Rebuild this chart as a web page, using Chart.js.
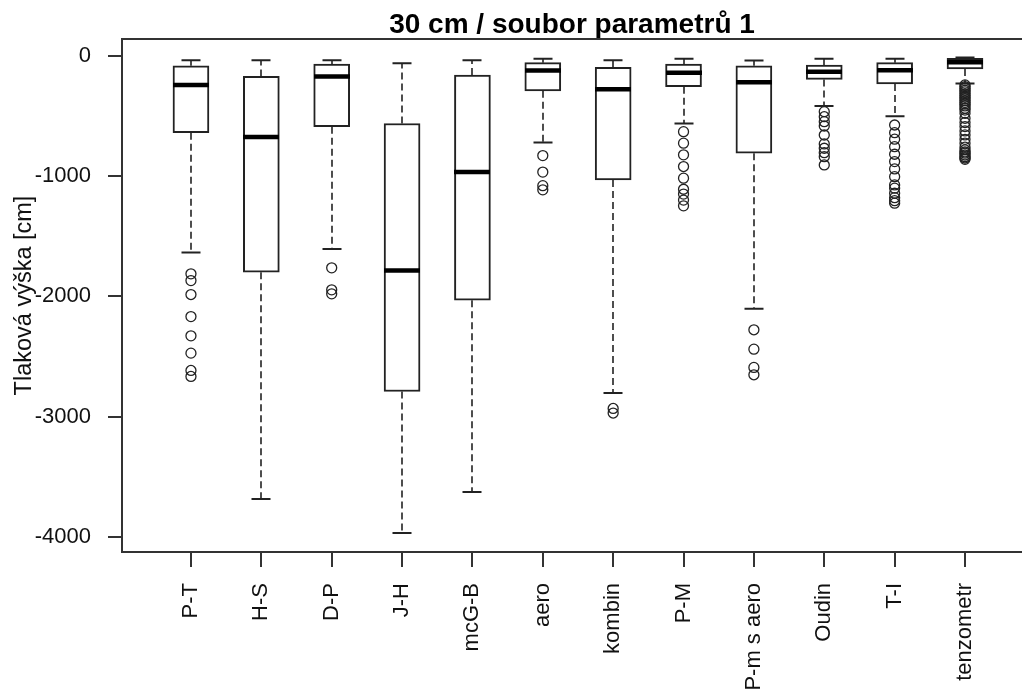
<!DOCTYPE html>
<html>
<head>
<meta charset="utf-8">
<title>30 cm / soubor parametrů 1</title>
<script src="https://cdn.jsdelivr.net/npm/chart.js@4.4.1/dist/chart.umd.min.js"></script>
<style>
  html, body { margin: 0; padding: 0; background: #ffffff; }
  canvas { display: block; }
</style>
</head>
<body>
<canvas id="chart" width="1022" height="695"></canvas>
<script>
// Pressure head at 30 cm depth, one box per method (parameter set 1)
const categories = ['P-T', 'H-S', 'D-P', 'J-H', 'mcG-B', 'aero', 'kombin', 'P-M', 'P-m s aero', 'Oudin', 'T-I', 'tenzometr'];

const upperWhisker = [-38, -38, -38, -62, -37, -26, -37, -26, -40, -26, -25, -15];
const q3           = [-84, -172, -70, -563, -160, -58, -96, -70, -84, -77, -58, -22];
const median       = [-243, -675, -172, -1786, -967, -122, -279, -142, -220, -134, -121, -55];
const q1           = [-640, -1799, -590, -2791, -2032, -292, -1032, -258, -811, -197, -235, -110];
const lowerWhisker = [-1636, -3685, -1606, -3967, -3626, -722, -2804, -563, -2104, -418, -503, -230];

const outliers = [
  [-1813, -1869, -1985, -2168, -2328, -2472, -2616, -2666],
  [],
  [-1763, -1946, -1979],
  [],
  [],
  [-830, -967, -1080, -1115],
  [-2932, -2970],
  [-631, -727, -824, -921, -1018, -1110, -1150, -1200, -1248],
  [-2278, -2439, -2591, -2652],
  [-465, -507, -548, -584, -659, -733, -769, -806, -839, -908],
  [-576, -640, -694, -756, -819, -880, -941, -1005, -1074, -1101, -1143, -1180, -1205, -1226],
  [-243, -258, -272, -287, -301, -316, -330, -345, -359, -374, -388, -403, -417, -437, -452, -478,
   -520, -555, -589, -625, -658, -695, -727, -760, -783, -800, -810, -825, -839, -850, -861]
];

const yTicks = [0, -1000, -2000, -3000, -4000];

const INK = '#222222';
const AXIS = '#333333';
const FONT = "'Liberation Sans', Arial, sans-serif";

// Box rectangles: floating bars from Q1 to Q3 at positions 1..n
const boxData = categories.map((c, i) => ({ x: i + 1, y: [q1[i], q3[i]] }));
// Outlying values as hollow circles
const outlierData = [];
outliers.forEach((list, i) => list.forEach(v => outlierData.push({ x: i + 1, y: v })));

// Whiskers, staples and medians drawn right after the boxes
const whiskerPlugin = {
  id: 'whiskers',
  afterDatasetDraw(chart, args) {
    if (args.index !== 0) return;
    const { ctx, scales: { x, y } } = chart;
    const boxHalf = 18, capHalf = 9.5;
    ctx.save();
    ctx.strokeStyle = INK;
    ctx.lineCap = 'butt';
    categories.forEach((c, i) => {
      const px = Math.round(x.getPixelForValue(i + 1));
      const yUp = y.getPixelForValue(upperWhisker[i]);
      const yQ3 = y.getPixelForValue(q3[i]);
      const yQ1 = y.getPixelForValue(q1[i]);
      const yLo = y.getPixelForValue(lowerWhisker[i]);
      const yMed = y.getPixelForValue(median[i]);

      // dashed whisker lines
      ctx.lineWidth = 1.6;
      ctx.setLineDash([7, 4]);
      ctx.beginPath();
      ctx.moveTo(px, yQ3);
      ctx.lineTo(px, yUp);
      ctx.moveTo(px, yQ1);
      ctx.lineTo(px, yLo);
      ctx.stroke();

      // staples
      ctx.setLineDash([]);
      ctx.lineWidth = 2;
      ctx.beginPath();
      ctx.moveTo(px - capHalf, yUp);
      ctx.lineTo(px + capHalf, yUp);
      ctx.moveTo(px - capHalf, yLo);
      ctx.lineTo(px + capHalf, yLo);
      ctx.stroke();

      // median
      ctx.lineWidth = 4.5;
      ctx.strokeStyle = '#000000';
      ctx.beginPath();
      ctx.moveTo(px - boxHalf, yMed);
      ctx.lineTo(px + boxHalf, yMed);
      ctx.stroke();
      ctx.strokeStyle = INK;
    });
    ctx.restore();
  }
};

// Top edge of the plot frame
const framePlugin = {
  id: 'frameTop',
  afterDraw(chart) {
    const { ctx, chartArea } = chart;
    ctx.save();
    ctx.strokeStyle = AXIS;
    ctx.lineWidth = 2;
    ctx.beginPath();
    ctx.moveTo(chartArea.left - 1, chartArea.top);
    ctx.lineTo(chartArea.right, chartArea.top);
    ctx.stroke();
    ctx.restore();
  }
};

new Chart(document.getElementById('chart'), {
  type: 'bar',
  data: {
    datasets: [
      {
        type: 'bar',
        data: boxData,
        backgroundColor: '#ffffff',
        borderColor: INK,
        borderWidth: 2,
        borderSkipped: false,
        barThickness: 36,
        order: 2
      },
      {
        type: 'line',
        data: outlierData,
        showLine: false,
        pointStyle: 'circle',
        pointRadius: 5,
        pointBorderWidth: 1.3,
        pointBorderColor: INK,
        pointBackgroundColor: 'rgba(0,0,0,0)',
        order: 1
      }
    ]
  },
  options: {
    responsive: false,
    devicePixelRatio: 1,
    animation: false,
    layout: { padding: 0, autoPadding: false },
    plugins: {
      legend: { display: false },
      tooltip: { enabled: false },
      title: {
        display: true,
        text: '30 cm / soubor parametrů 1',
        fullSize: false,
        color: '#000000',
        font: { family: FONT, size: 28, weight: 'bold', lineHeight: 1 },
        padding: { top: 11, bottom: 0 }
      }
    },
    scales: {
      x: {
        type: 'linear',
        offset: false,
        min: 0.02,
        max: 12.81,
        afterBuildTicks(scale) {
          scale.ticks = categories.map((c, i) => ({ value: i + 1 }));
        },
        afterFit(scale) {
          scale.height = 143;
          scale.paddingLeft = 0;
          scale.paddingRight = 0;
        },
        border: { display: true, color: AXIS, width: 2 },
        grid: { offset: false, drawOnChartArea: false, drawTicks: true, tickLength: 15, color: AXIS, lineWidth: 2 },
        ticks: {
          autoSkip: false,
          minRotation: 90,
          maxRotation: 90,
          padding: 16,
          color: '#111111',
          font: { family: FONT, size: 22 },
          callback: (value, index) => categories[index]
        }
      },
      y: {
        type: 'linear',
        min: -4125,
        max: 139,
        afterBuildTicks(scale) {
          scale.ticks = yTicks.map(v => ({ value: v }));
        },
        afterFit(scale) {
          scale.width = 122;
          scale.paddingTop = 0;
          scale.paddingBottom = 0;
        },
        border: { display: true, color: AXIS, width: 2 },
        grid: { drawOnChartArea: false, drawTicks: true, tickLength: 14, color: AXIS, lineWidth: 2 },
        ticks: {
          padding: 17,
          color: '#111111',
          font: { family: FONT, size: 22 },
          callback: value => String(value)
        },
        title: {
          display: true,
          text: 'Tlaková výška [cm]',
          color: '#111111',
          font: { family: FONT, size: 23.5 },
          padding: { top: 10, bottom: 0 }
        }
      }
    }
  },
  plugins: [whiskerPlugin, framePlugin]
});
</script>
</body>
</html>
